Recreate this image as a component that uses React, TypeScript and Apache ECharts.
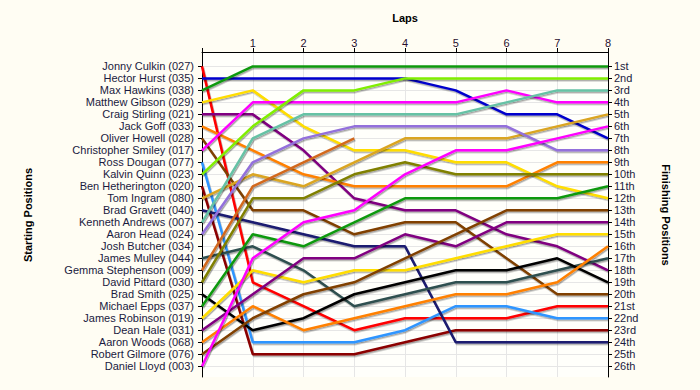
import React, { useEffect, useRef } from 'react';
import * as echarts from 'echarts';

// Laps (x axis)
const laps = [0, 1, 2, 3, 4, 5, 6, 7, 8];

// Drivers in starting order (left axis labels)
const drivers = [
  'Jonny Culkin (027)', 'Hector Hurst (035)', 'Max Hawkins (038)', 'Matthew Gibson (029)',
  'Craig Stirling (021)', 'Jack Goff (033)', 'Oliver Howell (028)', 'Christopher Smiley (017)',
  'Ross Dougan (077)', 'Kalvin Quinn (023)', 'Ben Hetherington (020)', 'Tom Ingram (080)',
  'Brad Gravett (040)', 'Kenneth Andrews (007)', 'Aaron Head (024)', 'Josh Butcher (034)',
  'James Mulley (044)', 'Gemma Stephenson (009)', 'David Pittard (030)', 'Brad Smith (025)',
  'Michael Epps (037)', 'James Robinson (019)', 'Dean Hale (031)', 'Aaron Woods (068)',
  'Robert Gilmore (076)', 'Daniel Lloyd (003)',
];

// Finishing position labels (right axis)
const finishLabels = [
  '1st', '2nd', '3rd', '4th', '5th', '6th', '7th', '8th', '9th', '10th', '11th', '12th', '13th',
  '14th', '15th', '16th', '17th', '18th', '19th', '20th', '21st', '22nd', '23rd', '24th', '25th', '26th',
];

// Position of each driver (starting order) at each lap; null = not running
const lap0 = [1, 2, 3, 4, 5, 6, 7, 8, 9, 10, 11, 12, 13, 14, 15, null, 17, 18, 19, 20, 21, 22, 23, 24, 25, 26];
const lap1 = [19, 2, 1, 3, 5, 8, 13, 4, 24, 6, 25, 10, 14, 7, 9, null, 16, 11, 12, 23, 15, 18, 20, 21, 22, 17];
const lap2 = [21, 2, 1, 6, 8, 10, 13, 4, 24, 3, 25, 11, 15, 5, 7, null, 18, 9, 12, 22, 16, 19, 17, 23, 20, 14];
const lap3 = [23, 2, 1, 8, 12, 11, 15, 4, 24, 3, 25, 9, 16, 5, 6, null, 21, 7, 10, 20, 14, 18, 17, 22, 19, 13];
const lap4 = [22, 2, 1, 8, 13, 11, 14, 4, 23, 2, 24, 7, 16, 5, 6, null, 20, null, 9, 19, 12, 18, 15, 21, 17, 10];
const lap5 = [22, 3, 1, 9, 13, 11, 14, 4, 21, 2, 23, 7, 24, 5, 6, null, 19, null, 10, 18, 12, 17, 16, 20, 15, 8];
const lap6 = [22, 5, 1, 9, 15, 11, 17, 3, 21, 2, 23, 7, 24, 4, 6, null, 19, null, 10, 18, 12, 16, 14, 20, 13, 8];
const lap7 = [21, 5, 1, 11, 16, 9, 20, 4, 22, 2, 23, 6, 24, 3, 8, null, 18, null, 10, 17, 12, 15, 14, 19, 13, 7];
const lap8 = [21, 7, 1, 12, 18, 9, 20, 4, 22, 2, 23, 5, 24, 3, 8, null, 17, null, 10, 19, 11, 15, 14, 16, 13, 6];

const lapPositions = [lap0, lap1, lap2, lap3, lap4, lap5, lap6, lap7, lap8];

const colors = [
  '#ff0000', '#0000cc', '#119911', '#ffdd00', '#800080', '#ff8000', '#804000', '#ff00ff',
  '#2f95ff', '#80ee00', '#8b0000', '#daa520', '#1a1a70', '#66c2a5', '#9370db', '#999999',
  '#2f4f4f', '#d2691e', '#808000', '#000000', '#119911', '#ffdd00', '#800080', '#ff8000',
  '#804000', '#ff00ff',
];

const tickValues = drivers.map((_, i) => i + 1);
const FONT = '"Liberation Sans", Arial, sans-serif';

export default function App() {
  const ref = useRef<HTMLDivElement>(null);

  useEffect(() => {
    document.body.style.margin = '0';
    const chart = echarts.init(ref.current!, null, { renderer: 'svg' });

    const series = drivers.map((name, i) => ({
      name,
      type: 'line',
      showSymbol: false,
      symbol: 'none',
      connectNulls: false,
      xAxisIndex: 0,
      yAxisIndex: 0,
      lineStyle: {
        width: 2.5,
        color: colors[i],
        shadowColor: 'rgba(0,0,0,0.35)',
        shadowOffsetX: 1,
        shadowOffsetY: 1.5,
        shadowBlur: 1,
      },
      itemStyle: { color: colors[i] },
      data: laps.map((l, k) => {
        const v = lapPositions[k][i];
        return v == null ? [l, '-'] : [l, v];
      }),
    }));

    const yCommon = {
      type: 'value',
      min: -0.2,
      max: 26.9,
      inverse: true,
      axisLine: { show: true, onZero: false, lineStyle: { color: '#000', width: 1 } },
      axisTick: { show: true, length: 4, customValues: tickValues, lineStyle: { color: '#000' } },
    };

    chart.setOption({
      animation: false,
      backgroundColor: '#fffdf3',
      textStyle: { fontFamily: FONT },
      grid: {
        left: 202,
        right: 92,
        top: 52,
        bottom: 13,
        show: true,
        backgroundColor: '#fffffb',
        borderWidth: 0,
      },
      xAxis: {
        type: 'value',
        position: 'top',
        min: 0,
        max: 8,
        interval: 1,
        axisLine: { show: true, onZero: false, lineStyle: { color: '#000' } },
        axisTick: { show: true, length: 4, lineStyle: { color: '#000' } },
        axisLabel: {
          margin: 4,
          fontSize: 11,
          fontFamily: FONT,
          color: '#2a1030',
          formatter: (v: number) => (v === 0 ? '' : String(v)),
        },
        splitLine: { show: true, lineStyle: { color: '#e6e6e6', width: 1 } },
      },
      yAxis: [
        {
          ...yCommon,
          position: 'left',
          axisLabel: {
            customValues: tickValues,
            margin: 8,
            fontSize: 11,
            fontFamily: FONT,
            color: '#1a1a40',
            formatter: (v: number) => drivers[v - 1] ?? '',
          },
          splitLine: { show: true, lineStyle: { color: '#e6e6e6', width: 1 } },
        },
        {
          ...yCommon,
          position: 'right',
          axisLabel: {
            customValues: tickValues,
            margin: 6,
            fontSize: 11,
            fontFamily: FONT,
            color: '#1a1a40',
            formatter: (v: number) => finishLabels[v - 1] ?? '',
          },
          splitLine: { show: false },
        },
      ],
      graphic: [
        {
          type: 'text',
          x: 405,
          y: 18,
          style: { text: 'Laps', font: 'bold 11px ' + FONT, fill: '#000', align: 'center', verticalAlign: 'middle' },
        },
        {
          type: 'text',
          x: 28,
          y: 215,
          rotation: Math.PI / 2,
          style: { text: 'Starting Positions', font: 'bold 11px ' + FONT, fill: '#000', align: 'center', verticalAlign: 'middle' },
        },
        {
          type: 'text',
          x: 666,
          y: 215,
          rotation: -Math.PI / 2,
          style: { text: 'Finishing Positions', font: 'bold 11px ' + FONT, fill: '#000', align: 'center', verticalAlign: 'middle' },
        },
      ],
      series,
    });

    return () => chart.dispose();
  }, []);

  return <div ref={ref} style={{ width: 700, height: 390 }} />;
}
